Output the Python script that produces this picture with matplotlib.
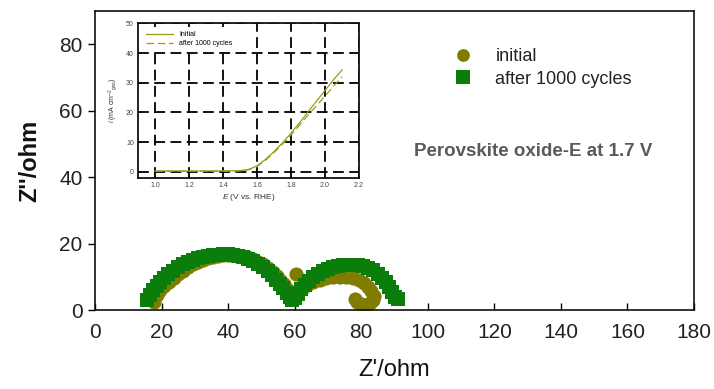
import matplotlib
matplotlib.use("Agg")
import matplotlib.pyplot as plt

plt.rcParams['font.family'] = ['Liberation Sans', 'DejaVu Sans']
plt.rcParams['mathtext.fontset'] = 'custom'
plt.rcParams['mathtext.rm'] = 'Liberation Sans'
plt.rcParams['mathtext.it'] = 'Liberation Sans:italic'

# ---- main Nyquist data ----
init_zre = [17.6, 18.6, 19.6, 20.8, 22.1, 23.6, 25.1, 26.6, 28.1, 29.6, 31.1, 32.6,
            34.1, 35.6, 37.1, 38.6, 40.1, 41.6, 43.1, 44.6, 46.1, 47.6, 49.1, 50.6, 52.1,
            53.4, 54.6, 55.7, 56.7, 57.7, 58.6, 59.4, 60.3,
            61.0, 62.3, 63.8, 65.5, 67.5, 69.5, 71.5, 73.5, 75.5, 77.5, 79.3, 80.8, 82.0,
            83.0, 83.7, 83.6, 82.7, 81.3, 79.9, 78.7, 78.0]
init_zim = [2.5, 4.5, 6.0, 7.2, 8.4, 9.6, 10.7, 11.8, 12.9, 13.7, 14.5, 15.1,
            15.6, 16.0, 16.3, 16.5, 16.7, 16.7, 16.6, 16.3, 15.9, 15.3, 14.6, 13.7, 12.7,
            11.5, 10.3, 9.0, 7.7, 6.4, 5.1, 3.9, 10.8,
            5.0, 6.3, 7.4, 8.3, 9.0, 9.5, 9.8, 10.0, 10.0, 9.7, 9.0, 8.0, 6.9,
            5.6, 4.3, 3.0, 2.0, 1.6, 1.7, 2.5, 3.4]

cyc_zre = [15.5, 16.5, 17.5, 18.5, 19.5, 20.7, 22.0, 23.5, 25.0, 26.5, 28.0, 29.5, 31.0, 32.5,
           34.0, 35.5, 37.0, 38.5, 40.0, 41.5, 43.0, 44.5, 46.0, 47.5, 49.0, 50.5, 52.0,
           53.3, 54.5, 55.6, 56.6, 57.6, 58.5, 59.3, 60.2, 61.0, 62.0, 63.0, 64.2, 65.5,
           67.0, 68.5, 70.0, 71.5, 73.0, 74.5, 76.0, 77.5, 79.0, 80.5, 82.0, 83.5, 85.0,
           86.3, 87.5, 88.5, 89.4, 90.2, 91.0]
cyc_zim = [2.9, 4.5, 6.0, 7.2, 8.4, 9.6, 10.7, 11.8, 12.9, 13.7, 14.5, 15.1, 15.6, 16.0,
           16.3, 16.5, 16.7, 16.8, 16.8, 16.7, 16.4, 16.0, 15.4, 14.7, 13.8, 12.8, 11.6,
           10.4, 9.1, 7.8, 6.5, 5.2, 4.0, 3.1, 3.6, 4.8, 6.2, 7.5, 8.7, 9.8,
           10.8, 11.6, 12.3, 12.8, 13.2, 13.5, 13.6, 13.6, 13.5, 13.1, 12.6, 11.9, 10.9,
           9.7, 8.3, 6.8, 5.3, 3.8, 3.2]

x_ticks = [0, 20, 40, 60, 80, 100, 120, 140, 160, 180]
y_ticks = [0, 20, 40, 60, 80]
series_labels = ["initial", "after 1000 cycles"]

# ---- inset LSV data ----
lsv_e = [1.0, 1.1, 1.2, 1.3, 1.4, 1.5, 1.55, 1.6, 1.65, 1.7, 1.75, 1.8, 1.85, 1.9, 1.95, 2.0, 2.05, 2.1]
lsv_init = [0.3, 0.3, 0.3, 0.3, 0.3, 0.4, 0.8, 2.0, 4.2, 6.8, 9.8, 13.0, 16.5, 20.2, 23.8, 27.4, 31.0, 34.3]
lsv_cyc = [0.2, 0.2, 0.2, 0.2, 0.2, 0.3, 0.7, 1.8, 3.9, 6.5, 9.3, 12.4, 15.7, 19.1, 22.3, 25.5, 28.8, 32.0]
inset_xticks = [1.0, 1.2, 1.4, 1.6, 1.8, 2.0, 2.2]
inset_yticks = [0, 10, 20, 30, 40, 50]
inset_labels = ["Initial", "after 1000 cycles"]

OLIVE = '#7f7c00'
GREEN = '#0b7d0b'
LINE_OL = '#9a9a20'

fig = plt.figure(figsize=(7.14, 3.89), dpi=100)
ax = fig.add_axes([0.133, 0.203, 0.839, 0.769])

ax.plot(init_zre, init_zim, linestyle='none', marker='o', ms=10.2, mew=0,
        color=OLIVE, label=series_labels[0])
ax.plot(cyc_zre, cyc_zim, linestyle='none', marker='s', ms=10.5, mew=0,
        color=GREEN, label=series_labels[1])

ax.set_xlim(0, 180)
ax.set_ylim(0, 90)
ax.set_xticks(x_ticks)
ax.set_yticks(y_ticks)
for s in ax.spines.values():
    s.set_linewidth(1.2)
    s.set_color('#111111')
ax.tick_params(axis='x', direction='in', length=5, width=1, pad=9,
               labelsize=15, labelcolor='#222222')
ax.tick_params(axis='y', direction='out', length=5, width=1, pad=4,
               labelsize=15, labelcolor='#222222')
ax.set_xlabel("Z'/ohm", fontsize=17, color='#111111')
ax.xaxis.set_label_coords(0.5, -0.165)
ax.set_ylabel("Z''/ohm", fontsize=17, fontweight='bold', color='#111111')
ax.yaxis.set_label_coords(-0.09, 0.5)

leg = ax.legend(loc='center left', bbox_to_anchor=(0.599, 0.809), frameon=False,
                fontsize=13, handlelength=1.0, handletextpad=1.3, labelspacing=0.3,
                borderpad=0, borderaxespad=0, markerscale=0.9)
for t in leg.get_texts():
    t.set_color('#222222')

ax.text(96, 47.6, "Perovskite oxide-E at 1.7 V", fontsize=13.5, fontweight='bold',
        color='#5a5a5a', ha='left', va='center')

# ---- inset ----
ins = fig.add_axes([0.1933, 0.543, 0.3095, 0.397])
ins.set_facecolor('white')
ins.plot(lsv_e, lsv_init, color=LINE_OL, lw=0.9, linestyle='-', label=inset_labels[0])
ins.plot(lsv_e, lsv_cyc, color=LINE_OL, lw=0.9, linestyle=(0, (6, 3)), label=inset_labels[1])
ins.set_xlim(0.9, 2.2)
ins.set_ylim(-2, 50)
ins.set_xticks(inset_xticks)
ins.set_yticks(inset_yticks)
ins.set_xticklabels([f"{v:.1f}" for v in inset_xticks])
ins.grid(True, color='black', linestyle=(0, (6, 3)), linewidth=1.3)
ins.set_axisbelow(True)
for s in ins.spines.values():
    s.set_linewidth(1.3)
    s.set_color('#111111')
ins.tick_params(direction='in', length=2, width=0.6, labelsize=5, pad=3, labelcolor='#444444')
ins.set_xlabel(r"$E$ (V vs. RHE)", fontsize=6, labelpad=2, color='#333333')
ins.set_ylabel(r"$i$ (mA cm$^{-2}$$_{\rm geo}$)", fontsize=5, labelpad=4, color='#333333')
il = ins.legend(loc='upper left', fontsize=5, frameon=True, framealpha=1,
                facecolor='white', edgecolor='none', handlelength=4, borderpad=0.6,
                labelspacing=0.3, fancybox=False)
il.get_frame().set_linewidth(0)

fig.savefig('out.png', dpi=100)
